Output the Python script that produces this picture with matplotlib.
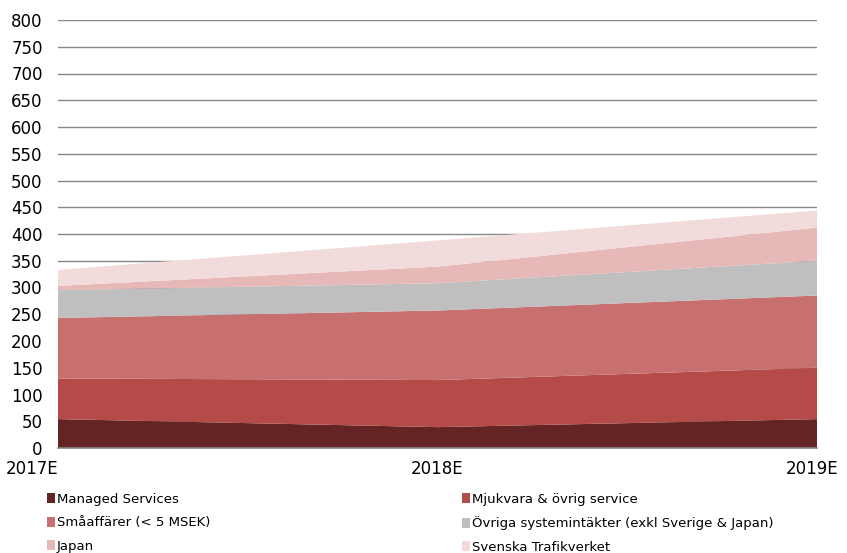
import matplotlib
matplotlib.use("Agg")
import matplotlib.pyplot as plt
import matplotlib.transforms as mtransforms
from matplotlib.patches import Patch

years = ["2017E", "2018E", "2019E"]
series_names = [
    "Managed Services",
    "Mjukvara & övrig service",
    "Småaffärer (< 5 MSEK)",
    "Övriga systemintäkter (exkl Sverige & Japan)",
    "Japan",
    "Svenska Trafikverket",
]
managed = [54, 39, 54]
mjukvara = [76, 88, 96]
smaaffarer = [113, 130, 135]
ovriga = [52, 51, 65]
japan = [8, 31, 62]
trafikverket = [30, 49, 32]
yticks = list(range(0, 801, 50))

colors = ["#632423", "#B54B48", "#C7706F", "#BFBFBF", "#E6B8B7", "#F2DCDB"]

fig = plt.figure(figsize=(8.47, 5.53), dpi=100)
ax = fig.add_axes([58 / 847, 1 - 448 / 553, (817 - 58) / 847, (448 - 20) / 553])

x = list(range(len(years)))
ax.stackplot(x, managed, mjukvara, smaaffarer, ovriga, japan, trafikverket,
             colors=colors, labels=series_names, linewidth=0, zorder=2)

ax.set_xlim(0, 2)
ax.set_ylim(0, 800)
ax.set_yticks(yticks)
ax.set_yticklabels([str(v) for v in yticks])
ax.yaxis.grid(True, color="#878787", linewidth=1.0, zorder=0)
ax.set_axisbelow(True)
for s in ["top", "right", "left"]:
    ax.spines[s].set_visible(False)
ax.spines["bottom"].set_color("#878787")
ax.spines["bottom"].set_linewidth(1.2)
ax.spines["bottom"].set_zorder(3)
ax.tick_params(axis="y", length=0, pad=11, labelsize=12, colors="black")
ax.tick_params(axis="x", length=0, pad=9, labelsize=12, colors="black")
ax.set_xticks(x)
ax.set_xticklabels(years)
labs = ax.get_xticklabels()
labs[0].set_horizontalalignment("right")
labs[-1].set_transform(labs[-1].get_transform() +
                       mtransforms.ScaledTranslation(-5 / 100, 0, fig.dpi_scale_trans))

handles = [Patch(facecolor=c, edgecolor="none") for c in colors]
left_idx = [0, 2, 4]
right_idx = [1, 3, 5]
common = dict(frameon=False, fontsize=9.5, handlelength=0.6, handleheight=0.8,
              handletextpad=0.15, labelspacing=0.78, borderpad=0, borderaxespad=0,
              loc="upper left")
leg1 = fig.legend([handles[i] for i in left_idx], [series_names[i] for i in left_idx],
                  bbox_to_anchor=(47 / 847, 1 - 493 / 553), **common)
leg2 = fig.legend([handles[i] for i in right_idx], [series_names[i] for i in right_idx],
                  bbox_to_anchor=(462 / 847, 1 - 493 / 553), **common)

fig.savefig("out.png", dpi=100)
